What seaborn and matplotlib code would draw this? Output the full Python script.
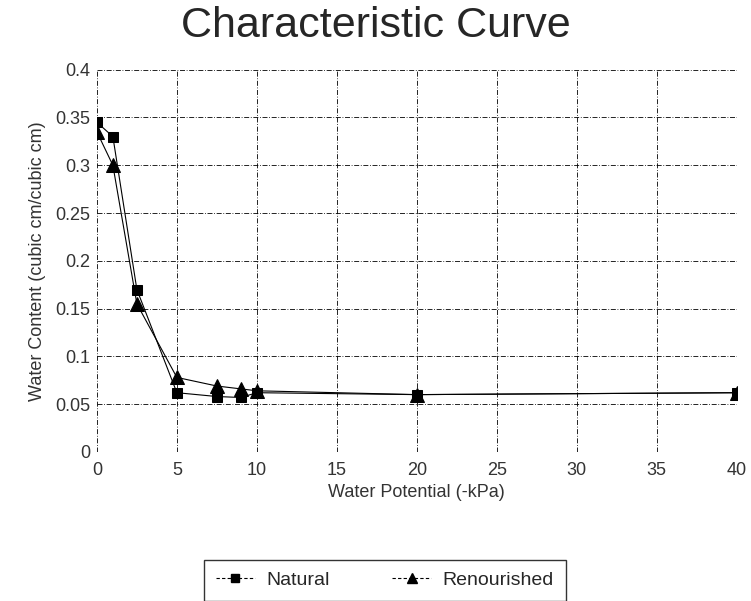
import numpy as np
import pandas as pd
import matplotlib.pyplot as plt
import seaborn as sns
from matplotlib.lines import Line2D

# Water potential (-kPa) and water content readings
potential = [0, 1, 2.5, 5, 7.5, 9, 10, 20, 40]
natural = [0.345, 0.330, 0.170, 0.062, 0.058, 0.057, 0.062, 0.060, 0.062]
renourished = [0.335, 0.300, 0.155, 0.078, 0.069, 0.066, 0.064, 0.060, 0.062]

df_nat = pd.DataFrame({'potential': potential, 'content': natural})
df_ren = pd.DataFrame({'potential': potential, 'content': renourished})

sns.set_style('white')
plt.rcParams['font.family'] = ['Liberation Sans', 'DejaVu Sans']

fig = plt.figure(figsize=(7.51, 6.01), dpi=100)
ax = fig.add_axes([0.129, 0.248, 0.852, 0.636])

# natural first, renourished on top
sns.lineplot(data=df_nat, x='potential', y='content', color='black', marker='s',
             markersize=7, linewidth=0.8, markeredgecolor='black', ax=ax, zorder=3)
sns.lineplot(data=df_ren, x='potential', y='content', color='black', marker='^',
             markersize=10, linewidth=0.8, markeredgecolor='black', ax=ax, zorder=4)

ax.set_xlim(0, 40)
ax.set_ylim(0, 0.4)
ax.set_xticks(np.arange(0, 41, 5))
ax.set_yticks(np.arange(0, 0.41, 0.05))
ax.set_yticklabels(['0', '0.05', '0.1', '0.15', '0.2', '0.25', '0.3', '0.35', '0.4'])
ax.grid(True, color='black', linestyle=(0, (6, 2, 1, 2)), linewidth=0.6)
for s in ax.spines.values():
    s.set_visible(False)
ax.tick_params(labelsize=13, colors='#333333', length=0)
ax.tick_params(axis='x', pad=7)
ax.tick_params(axis='y', pad=5)
ax.set_xlabel('Water Potential (-kPa)', fontsize=13, color='#333333', labelpad=4)
ax.set_ylabel('Water Content (cubic cm/cubic cm)', fontsize=13, color='#333333', labelpad=6)
fig.suptitle('Characteristic Curve', fontsize=31, y=0.99)

# legend below the plot
handles = [
    Line2D([], [], color='black', linestyle=(0, (3, 2)), linewidth=0.8, marker='s', markersize=6),
    Line2D([], [], color='black', linestyle=(0, (3, 2)), linewidth=0.8, marker='^', markersize=7),
]
fig.legend(handles, ['Natural', 'Renourished'], loc='upper center',
           bbox_to_anchor=(385 / 751, 1 - 560 / 601), ncol=2, fontsize=14, frameon=True,
           fancybox=False, edgecolor='black', handlelength=2.0, handletextpad=0.6,
           columnspacing=3.2, borderpad=0.6, borderaxespad=0)

fig.savefig('out.png', dpi=100)
